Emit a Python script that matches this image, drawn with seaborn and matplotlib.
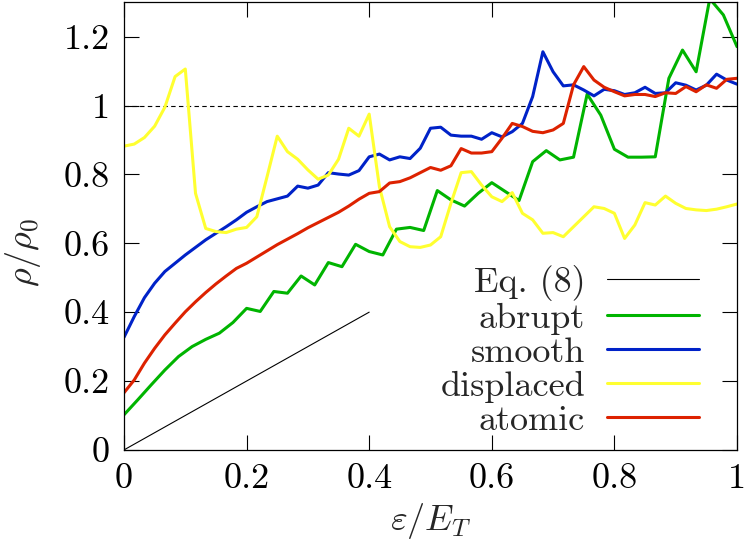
import numpy as np
import matplotlib
matplotlib.use("Agg")
import matplotlib.pyplot as plt
import seaborn as sns

# data
# abrupt is sampled on a coarser grid (46 pts), the others on 61 pts
x_abrupt = np.linspace(0, 1, 46)
x_fine = np.linspace(0, 1, 61)

abrupt = [0.102, 0.145, 0.189, 0.232, 0.271, 0.300, 0.321, 0.339, 0.370, 0.411,
          0.402, 0.460, 0.455, 0.505, 0.479, 0.544, 0.532, 0.597, 0.576, 0.566,
          0.641, 0.646, 0.637, 0.753, 0.726, 0.708, 0.745, 0.776, 0.750, 0.724,
          0.837, 0.869, 0.842, 0.850, 1.033, 0.972, 0.873, 0.850, 0.850, 0.851,
          1.079, 1.161, 1.098, 1.310, 1.263, 1.171]

smooth = [0.327, 0.387, 0.442, 0.484, 0.518, 0.542, 0.566, 0.588, 0.610, 0.629,
          0.648, 0.668, 0.690, 0.706, 0.721, 0.729, 0.737, 0.766, 0.760, 0.769,
          0.805, 0.801, 0.798, 0.811, 0.851, 0.859, 0.842, 0.851, 0.846, 0.876,
          0.934, 0.937, 0.914, 0.911, 0.911, 0.902, 0.921, 0.909, 0.924, 0.948,
          1.026, 1.156, 1.098, 1.057, 1.060, 1.045, 1.028, 1.047, 1.043, 1.032,
          1.037, 1.053, 1.035, 1.037, 1.066, 1.059, 1.045, 1.059, 1.091, 1.074,
          1.062]

displaced = [0.882, 0.888, 0.907, 0.940, 0.995, 1.084, 1.106, 0.745, 0.643, 0.634,
             0.631, 0.641, 0.646, 0.677, 0.793, 0.911, 0.866, 0.844, 0.813, 0.786,
             0.798, 0.844, 0.934, 0.911, 0.975, 0.764, 0.648, 0.605, 0.590, 0.588,
             0.595, 0.619, 0.716, 0.805, 0.808, 0.769, 0.735, 0.721, 0.747, 0.687,
             0.668, 0.629, 0.631, 0.619, 0.648, 0.677, 0.706, 0.701, 0.687, 0.614,
             0.653, 0.718, 0.711, 0.737, 0.716, 0.701, 0.697, 0.695, 0.699, 0.706,
             0.714]

atomic = [0.166, 0.203, 0.252, 0.295, 0.334, 0.368, 0.401, 0.430, 0.457, 0.482,
          0.505, 0.527, 0.542, 0.560, 0.578, 0.596, 0.612, 0.628, 0.645, 0.660,
          0.675, 0.690, 0.708, 0.728, 0.745, 0.750, 0.775, 0.779, 0.790, 0.805,
          0.820, 0.812, 0.825, 0.875, 0.862, 0.862, 0.866, 0.905, 0.948, 0.939,
          0.925, 0.921, 0.929, 0.948, 1.060, 1.113, 1.074, 1.053, 1.040, 1.028,
          1.032, 1.032, 1.026, 1.037, 1.035, 1.055, 1.040, 1.060, 1.050, 1.076,
          1.079]

# Eq. (8): straight line rho/rho0 = eps/E_T up to 0.4
eq8_x = [0.0, 0.4]
eq8_y = [0.0, 0.4]

x_ticks = [0, 0.2, 0.4, 0.6, 0.8, 1.0]
x_ticklabels = ["0", "0.2", "0.4", "0.6", "0.8", "1"]
y_ticks = [0, 0.2, 0.4, 0.6, 0.8, 1.0, 1.2]
y_ticklabels = ["0", "0.2", "0.4", "0.6", "0.8", "1", "1.2"]

colors = {"abrupt": "#00b400", "smooth": "#0022c8",
          "displaced": "#ffff30", "atomic": "#dd2200"}

sns.set_theme(style="ticks")
plt.rcParams["font.family"] = ["cmr10", "DejaVu Serif"]
plt.rcParams["mathtext.fontset"] = "cm"
plt.rcParams["axes.unicode_minus"] = False
plt.rcParams["axes.formatter.use_mathtext"] = True

fig, ax = plt.subplots(figsize=(7.47, 5.48), dpi=100)
fig.subplots_adjust(left=0.166, right=0.9866, bottom=0.179, top=0.996)

ax.axhline(1.0, color="black", lw=0.8, ls=(0, (4, 3)), zorder=1)

sns.lineplot(x=eq8_x, y=eq8_y, color="black", lw=0.8, ax=ax,
             label="Eq. (8)", sort=False, estimator=None)
sns.lineplot(x=x_abrupt, y=abrupt, color=colors["abrupt"], lw=2.2, ax=ax,
             label="abrupt", sort=False, estimator=None)
sns.lineplot(x=x_fine, y=smooth, color=colors["smooth"], lw=2.2, ax=ax,
             label="smooth", sort=False, estimator=None)
sns.lineplot(x=x_fine, y=displaced, color=colors["displaced"], lw=2.2, ax=ax,
             label="displaced", sort=False, estimator=None)
sns.lineplot(x=x_fine, y=atomic, color=colors["atomic"], lw=2.2, ax=ax,
             label="atomic", sort=False, estimator=None)

ax.set_xlim(0, 1)
ax.set_ylim(0, 1.3)
ax.set_xticks(x_ticks)
ax.set_xticklabels(x_ticklabels)
ax.set_yticks(y_ticks)
ax.set_yticklabels(y_ticklabels)
ax.tick_params(direction="in", length=10.5, width=0.8, top=True, right=True,
               labelsize=26, pad=10, colors="black")
for s in ax.spines.values():
    s.set_visible(True)
    s.set_linewidth(0.9)
    s.set_color("black")

ax.set_xlabel(r"$\varepsilon/E_T$", fontsize=26, labelpad=4)
ax.set_ylabel(r"$\rho/\rho_0$", fontsize=26)
ax.yaxis.set_label_coords(-0.132, 0.44)

leg = ax.legend(loc="center right", bbox_to_anchor=(0.938, 0.221),
                frameon=False, markerfirst=False, fontsize=26,
                handlelength=2.55, handletextpad=0.6, labelspacing=0.05,
                borderpad=0, borderaxespad=0)

plt.savefig("out.png", dpi=100)
plt.close()
